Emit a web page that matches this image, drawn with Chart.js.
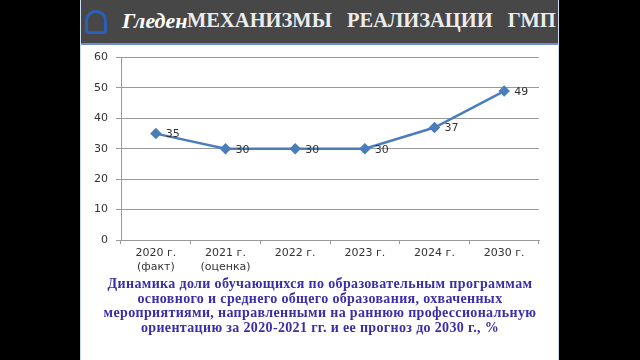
<!DOCTYPE html>
<html>
<head>
<meta charset="utf-8">
<script src="https://cdn.jsdelivr.net/npm/chart.js@4"></script>
<style>
  html, body { margin: 0; padding: 0; background: #000; }
  #slide {
    position: absolute; left: 80px; top: 0; width: 479px; height: 360px;
    background: #fff; border-right: 1px solid #c9dcef; border-left: 1px solid #c9dcef;
    box-sizing: border-box; overflow: hidden;
  }
  #header {
    position: absolute; left: 0; top: 0; width: 100%; height: 43px; z-index: 2;
    background: #474747; border-bottom: 2px solid #6d8fd0;
  }
  #logo {
    position: absolute; left: 4px; top: 10px; width: 22px; height: 24px;
    border: 3px solid #2a5fb8; border-radius: 12px 12px 4px 4px; box-sizing: border-box;
  }
  #brand {
    position: absolute; left: 41px; top: 8px; color: #fff;
    font: italic bold 22px "Liberation Serif", serif;
  }
  #title {
    position: absolute; left: 106px; top: 9px; color: #ececec; white-space: nowrap;
    font: bold 20.5px "Liberation Serif", serif; word-spacing: 10px;
  }
  #wrap { position: absolute; left: 0; top: 43px; width: 478px; height: 234px; }
  #caption {
    position: absolute; left: 0; top: 277px; width: 478px; text-align: center;
    color: #3a2ea8; font: bold 14px/14.5px "Liberation Serif", serif; letter-spacing: 0.35px;
  }
</style>
</head>
<body>
<div id="slide">
  <div id="header">
    <div id="logo"></div>
    <div id="brand">Гледен</div>
    <div id="title">МЕХАНИЗМЫ РЕАЛИЗАЦИИ ГМП</div>
  </div>
  <div id="wrap"><canvas id="chart"></canvas></div>
  <div id="caption">Динамика доли обучающихся по образовательным программам<br>основного и среднего общего образования, охваченных<br>мероприятиями, направленными на раннюю профессиональную<br>ориентацию за 2020-2021 гг. и ее прогноз до 2030 г., %</div>
</div>
<script>
const years = [["2020 г.", "(факт)"], ["2021 г.", "(оценка)"], "2022 г.", "2023 г.", "2024 г.", "2030 г."];
const shares = [35, 30, 30, 30, 37, 49];
const yTicks = [0, 10, 20, 30, 40, 50, 60];

const lineColor = "#4a7ebb";

// value labels to the right of each marker
const pointLabels = {
  id: "pointLabels",
  afterDatasetsDraw(chart) {
    const ctx = chart.ctx;
    const meta = chart.getDatasetMeta(0);
    ctx.save();
    ctx.font = "11px 'DejaVu Sans', sans-serif";
    ctx.fillStyle = "#333";
    ctx.textAlign = "left";
    ctx.textBaseline = "middle";
    meta.data.forEach((pt, i) => {
      ctx.fillText(String(shares[i]), pt.x + 10, pt.y + 1);
    });
    ctx.restore();
  }
};

new Chart(document.getElementById("chart").getContext("2d"), {
  type: "line",
  data: {
    labels: years,
    datasets: [{
      data: shares,
      borderColor: lineColor,
      backgroundColor: lineColor,
      borderWidth: 2.5,
      tension: 0,
      pointStyle: "rectRot",
      pointRadius: 4,
      pointBackgroundColor: lineColor,
      pointBorderColor: lineColor
    }]
  },
  options: {
    responsive: true,
    maintainAspectRatio: false,
    animation: false,
    layout: { padding: { top: 6, right: 20, left: 0, bottom: 0 } },
    plugins: {
      legend: { display: false },
      tooltip: { enabled: false }
    },
    scales: {
      x: {
        offset: true,
        afterFit: s => { s.height = 37; },
        grid: { offset: true, drawOnChartArea: false, drawTicks: true, tickLength: 4, color: "#999" },
        border: { color: "#999" },
        ticks: {
          color: "#333",
          padding: 3,
          maxRotation: 0,
          font: { family: "'DejaVu Sans', sans-serif", size: 11 }
        }
      },
      y: {
        min: 0,
        max: 60,
        afterFit: s => { s.width = 40; },
        afterBuildTicks: s => { s.ticks = yTicks.map(v => ({ value: v })); },
        grid: { color: "#999", tickLength: 5 },
        border: { color: "#999" },
        ticks: {
          color: "#333",
          padding: 8,
          font: { family: "'DejaVu Sans', sans-serif", size: 11 }
        }
      }
    }
  },
  plugins: [pointLabels]
});
</script>
</body>
</html>
